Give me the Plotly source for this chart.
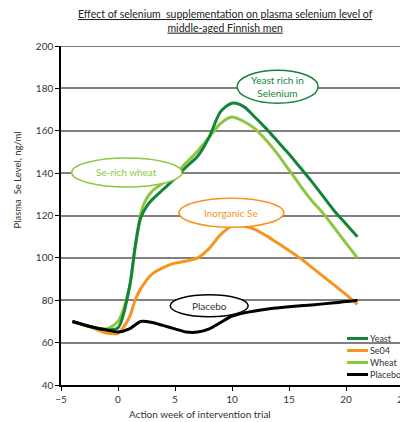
import plotly.graph_objects as go

# ---- data ----
yeast_x = [-4, -2, -1, 0, 1, 1.5, 2, 2.6, 3, 4, 5, 6, 7, 8, 9, 10, 11, 12, 13, 14, 15, 16, 17, 18, 19, 20, 21]
yeast_y = [70, 67, 66, 67, 86, 105, 119, 125, 127.5, 132.5, 137.5, 143, 148, 157, 169, 173, 171.5, 166.5, 161, 155, 149, 142.5, 136, 129, 122, 116, 110]

wheat_x = [-4, -2, -1, 0, 1, 1.5, 2, 2.4, 3, 4, 5, 6, 7, 8, 9, 10, 11, 12, 13, 14, 15, 16, 17, 18, 19, 20, 21]
wheat_y = [70, 67, 66.5, 70, 86, 105, 121, 127, 131.5, 135.5, 139.5, 145, 150.5, 157, 163.5, 166.5, 164.5, 161, 155.5, 149, 141.5, 134, 127, 121, 114, 107, 100]

se04_x = [-4, -2, -1, 0, 1, 1.5, 2, 3, 4, 5, 6, 7, 8, 9, 10, 11, 12, 13, 14, 15, 16, 17, 18, 19, 20, 21]
se04_y = [70, 66.5, 64.5, 64.5, 72, 80, 85.5, 92.5, 95.5, 97.5, 98.5, 100, 104.5, 111, 115, 115, 113.5, 110.5, 107, 103.5, 99.8, 95.5, 91.3, 87, 82.7, 78]

placebo_x = [-4, -2, -1, 0, 1, 2, 3, 4, 5, 6, 7, 8, 9, 10, 11, 13, 15, 17, 19, 21]
placebo_y = [70, 67, 66, 65, 66.5, 70, 69.5, 68, 66.5, 65, 65, 66.5, 69.5, 72.5, 74, 75.8, 76.9, 77.8, 78.8, 80]

series_names = ["Yeast", "Se04", "Wheat", "Placebo"]
series_colors = ["#13843a", "#f7941d", "#8dc63f", "#000000"]

x_ticks = [-5, 0, 5, 10, 15, 20, 25]
y_ticks = [40, 60, 80, 100, 120, 140, 160, 180, 200]

title_lines = ["Effect of selenium  supplementation on plasma selenium level of",
               "middle-aged Finnish men"]
x_title = "Action week of intervention trial"
y_title = "Plasma  Se Level, ng/ml"

# callouts: (text, x-center, y-center, half-width, half-height, color, text color)
callouts = [
    ("Yeast rich in<br>Selenium", 14.0, 180.8, 3.55, 7.8, "#13843a", "#13843a"),
    ("Se-rich wheat", 0.77, 140.3, 4.83, 6.8, "#8dc63f", "#8dc63f"),
    ("Inorganic Se", 9.95, 121.3, 4.6, 6.9, "#f7941d", "#f7941d"),
    ("Placebo", 8.0, 77.4, 3.42, 5.2, "#000000", "#333333"),
]

FONT = "Lato, 'Open Sans', sans-serif"

# page has an 8px body margin: plot area target (61..403, 46..385) in screenshot
OFF = 8
PL, PR, PT, PB = 61 - OFF, 403 - OFF, 46 - OFF, 385 - OFF
W, H = 400, 414
PW, PH = PR - PL, PB - PT


def px2paper(px, py):
    return (px - OFF - PL) / PW, (PB - (py - OFF)) / PH


fig = go.Figure()
xs = [yeast_x, se04_x, wheat_x, placebo_x]
ys = [yeast_y, se04_y, wheat_y, placebo_y]
for i in [1, 2, 0, 3]:
    fig.add_trace(go.Scatter(
        x=xs[i], y=ys[i], name=series_names[i], mode="lines",
        line=dict(color=series_colors[i], width=3, shape="spline", smoothing=0.8),
        showlegend=False, hoverinfo="skip"))

shapes = []
annotations = []
for text, cx, cy, hw, hh, lc, tc in callouts:
    shapes.append(dict(type="circle", xref="x", yref="y",
                       x0=cx - hw, x1=cx + hw, y0=cy - hh, y1=cy + hh,
                       line=dict(color=lc, width=1.5), fillcolor="white", layer="above"))
    annotations.append(dict(text=text, x=cx, y=cy, xref="x", yref="y", showarrow=False,
                            font=dict(family=FONT, size=10, color=tc)))

# top border line at 200
shapes.append(dict(type="line", xref="paper", yref="y", x0=0, x1=1, y0=200, y1=200,
                   line=dict(color="#000000", width=1), layer="below"))

# manual legend (screenshot pixels: line 347..368, rows at y 338,350,362,374)
for k in range(4):
    lx0, yy = px2paper(347, 338.5 + k * 12)
    lx1, _ = px2paper(368, 0)
    shapes.append(dict(type="line", xref="paper", yref="paper", x0=lx0, x1=lx1,
                       y0=yy, y1=yy, line=dict(color=series_colors[k], width=3)))
    annotations.append(dict(text=series_names[k], x=lx1, y=yy, xref="paper", yref="paper",
                            xanchor="left", yanchor="middle", showarrow=False,
                            font=dict(family=FONT, size=9, color="#333333")))

tx, ty = px2paper(225, 21.5)
annotations.append(dict(text="<u>" + title_lines[0] + "</u><br><u>" + title_lines[1] + "</u>",
                        x=tx, y=ty, xref="paper", yref="paper", showarrow=False,
                        xanchor="center", yanchor="middle",
                        font=dict(family=FONT, size=10.5, color="#222222")))
ax, ay = px2paper(200, 414)
annotations.append(dict(text=x_title, x=ax, y=ay, xref="paper", yref="paper",
                        showarrow=False, xanchor="center", yanchor="middle",
                        font=dict(family=FONT, size=10, color="#333333")))
yx, yy_ = px2paper(16.5, 180)
annotations.append(dict(text=y_title, x=yx, y=yy_, xref="paper", yref="paper",
                        showarrow=False, textangle=-90, xanchor="center", yanchor="middle",
                        font=dict(family=FONT, size=9.5, color="#333333")))

fig.update_layout(
    width=W, height=H,
    margin=dict(l=PL, r=W - PR, t=PT, b=H - PB, autoexpand=False),
    paper_bgcolor="white", plot_bgcolor="white",
    font=dict(family=FONT, size=10, color="#333333"),
    shapes=shapes, annotations=annotations,
    xaxis=dict(range=[-5, 25], tickvals=x_ticks, ticks="outside", ticklen=4, tickcolor="#000",
               showline=True, linecolor="#000", linewidth=1.5, showgrid=False, zeroline=False,
               ticklabeloverflow="allow", tickfont=dict(size=10, color="#333")),
    yaxis=dict(range=[40, 200], tickvals=y_ticks, ticks="outside", ticklen=4, tickcolor="#000",
               showline=True, linecolor="#000", linewidth=1.5, showgrid=True,
               gridcolor="#808080", gridwidth=1.5, zeroline=False,
               tickfont=dict(size=10, color="#333")),
)

fig.write_html("out.html",
               post_script="document.documentElement.style.overflow='hidden';"
                           "document.body.style.overflow='hidden';")
